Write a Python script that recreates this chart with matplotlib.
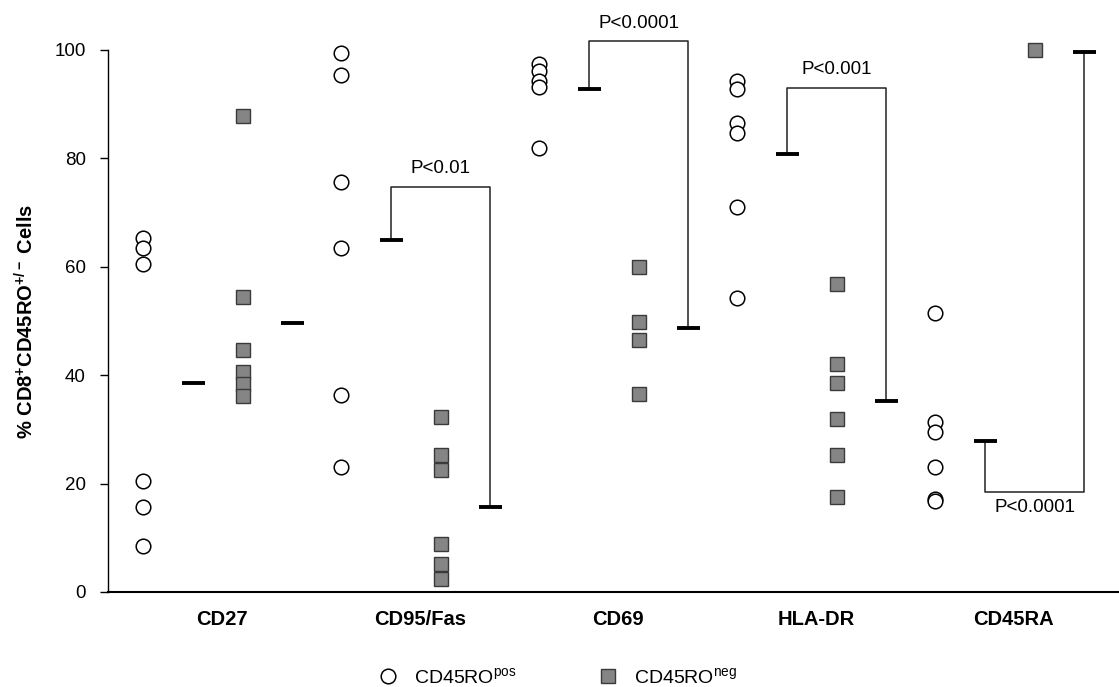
import matplotlib
matplotlib.use("Agg")
import matplotlib.pyplot as plt
from matplotlib.lines import Line2D

plt.rcParams['font.family'] = ['Liberation Sans', 'DejaVu Sans']
plt.rcParams['mathtext.fontset'] = 'custom'
plt.rcParams['mathtext.rm'] = 'Liberation Sans'
plt.rcParams['mathtext.bf'] = 'Liberation Sans:bold'
plt.rcParams['mathtext.it'] = 'Liberation Sans:italic'

# ---------------- data ----------------
categories = ["CD27", "CD95/Fas", "CD69", "HLA-DR", "CD45RA"]
pos_values = [
    [65.3, 63.4, 60.6, 20.4, 15.7, 8.4],      # CD27
    [99.4, 95.4, 75.6, 63.4, 36.3, 23.1],     # CD95/Fas
    [97.4, 96.2, 94.2, 93.1, 82.0],           # CD69
    [94.2, 92.8, 86.5, 84.7, 71.1, 54.2],     # HLA-DR
    [51.5, 31.3, 29.6, 23.1, 17.2, 16.8],     # CD45RA
]
neg_values = [
    [87.8, 54.5, 44.6, 40.6, 38.4, 36.2],     # CD27
    [32.2, 25.3, 22.6, 8.9, 5.1, 2.4],        # CD95/Fas
    [59.9, 49.8, 46.5, 36.6],                 # CD69
    [56.8, 42.1, 38.5, 31.9, 25.3, 17.5],     # HLA-DR
    [100.0],                                  # CD45RA
]
pos_median = [38.6, 64.9, 92.8, 80.8, 27.8]
neg_median = [49.7, 15.7, 48.7, 35.3, 99.6]
# significance brackets: (category index, bracket level, label)
brackets = [(1, 74.7, "P<0.01"), (2, 101.6, "P<0.0001"),
            (3, 93.0, "P<0.001"), (4, 18.4, "P<0.0001")]
yticks = [0, 20, 40, 60, 80, 100]

# ---------------- layout ----------------
W, H = 1119, 687
fig = plt.figure(figsize=(W / 100, H / 100), dpi=100)
ax = fig.add_axes([108 / W, 1 - 592 / H, (W - 108) / W, (592 - 50) / H])

OFF_POS, OFF_PMED, OFF_NEG, OFF_NMED = -0.345, -0.09, 0.16, 0.41
DASH = 0.058
MS = 10.5

for i, cat in enumerate(categories):
    ax.plot([i + OFF_POS] * len(pos_values[i]), pos_values[i], 'o',
            ms=MS, mfc='white', mec='black', mew=1.1, clip_on=False, zorder=3)
    ax.plot([i + OFF_NEG] * len(neg_values[i]), neg_values[i], 's',
            ms=MS, mfc='#858585', mec='#3a3a3a', mew=1.0, clip_on=False, zorder=3)
    ax.hlines(pos_median[i], i + OFF_PMED - DASH, i + OFF_PMED + DASH,
              colors='black', lw=2.8, clip_on=False, zorder=4)
    ax.hlines(neg_median[i], i + OFF_NMED - DASH, i + OFF_NMED + DASH,
              colors='black', lw=2.8, clip_on=False, zorder=4)

for i, level, label in brackets:
    x1, x2 = i + OFF_PMED, i + OFF_NMED
    ax.plot([x1, x1, x2, x2], [pos_median[i], level, level, neg_median[i]],
            color='#222222', lw=1.1, clip_on=False, zorder=2)
    if level < pos_median[i]:
        ax.text((x1 + x2) / 2, level - 1.3, label, ha='center', va='top',
                fontsize=13.5, clip_on=False)
    else:
        ax.text((x1 + x2) / 2, level + 1.8, label, ha='center', va='bottom',
                fontsize=13.5, clip_on=False)

ax.set_ylim(0, 100)
ax.set_xlim(-(211 - 108) / 198, (W - 211) / 198)
ax.set_yticks(yticks)
ax.set_yticklabels([str(t) for t in yticks], fontsize=13.5)
ax.set_xticks([i + 0.055 for i in range(len(categories))])
ax.set_xticklabels(categories, fontsize=14.5, fontweight='bold')
ax.tick_params(axis='x', length=0, pad=13)
ax.tick_params(axis='y', length=6, width=1.0, direction='out', pad=10)
for s in ['top', 'right']:
    ax.spines[s].set_visible(False)
ax.spines['left'].set_linewidth(1.0)
ax.spines['bottom'].set_linewidth(1.5)
ax.set_ylabel(r"% CD8$^{\mathbf{+}}$CD45RO$^{\mathbf{+/-}}$ Cells",
              fontsize=14.5, fontweight='bold', labelpad=12)

handles = [
    Line2D([], [], ls='none', marker='o', ms=MS, mfc='white', mec='black', mew=1.1),
    Line2D([], [], ls='none', marker='s', ms=MS, mfc='#858585', mec='#3a3a3a', mew=1.0),
]
fig.legend(handles, [r"CD45RO$^{\mathrm{pos}}$", r"CD45RO$^{\mathrm{neg}}$"],
           loc='center', bbox_to_anchor=(0.494, 1 - 677 / H), ncol=2,
           frameon=False, fontsize=14, columnspacing=3.7, handletextpad=0.35)

fig.savefig("out.png", dpi=100)
